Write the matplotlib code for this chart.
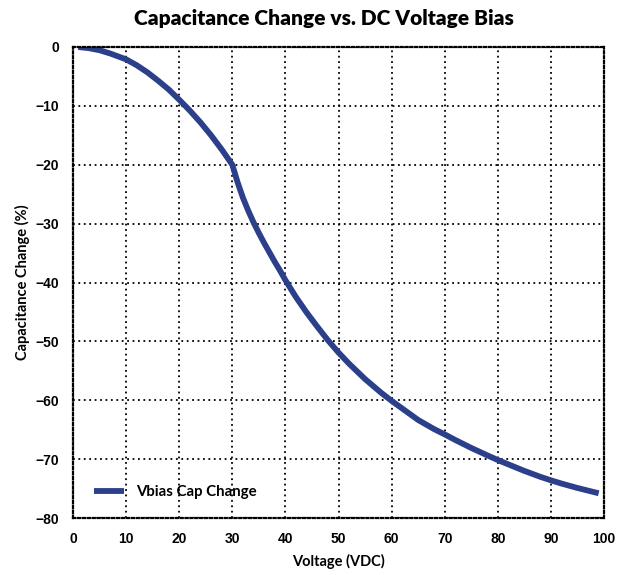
import matplotlib
matplotlib.use("Agg")
import matplotlib.pyplot as plt

voltage = [1, 3, 5, 7, 10, 12, 14, 16, 18, 20, 22, 24, 26, 28, 30,
           31, 32, 33, 34, 35, 36, 37, 38, 39, 40, 42, 44, 46, 48, 50,
           52, 55, 58, 60, 62, 65, 68, 70, 72, 75, 78, 80, 82, 85, 88, 90, 92, 95, 99]
cap_change = [0, -0.2, -0.55, -1.1, -2.1, -3.1, -4.3, -5.7, -7.2, -8.95, -10.8, -12.8, -15.0, -17.4, -20.0,
              -23.0, -25.6, -27.8, -29.8, -31.6, -33.3, -34.9, -36.5, -38.0, -39.6, -42.5, -45.1, -47.5, -49.8, -51.9,
              -53.8, -56.4, -58.7, -60.1, -61.4, -63.35, -64.9, -65.8, -66.75, -68.1, -69.35, -70.15, -70.9, -72.0, -73.0, -73.6, -74.15, -74.9, -75.8]
series_label = "Vbias Cap Change"
x_ticks = [0, 10, 20, 30, 40, 50, 60, 70, 80, 90, 100]
y_ticks = [0, -10, -20, -30, -40, -50, -60, -70, -80]

fig = plt.figure(figsize=(6.31, 5.75), dpi=100)
ax = fig.add_axes([73/631, 1-518/575, (604-73)/631, (518-47)/575])

ax.plot(voltage, cap_change, color="#2b3f8b", lw=4.2, label=series_label,
        solid_capstyle="butt", solid_joinstyle="round")
ax.set_xlim(0, 100)
ax.set_ylim(-80, 0)
ax.set_xticks(x_ticks)
ax.set_yticks(y_ticks)
ax.grid(True, color="black", linestyle=(0, (1, 2)), linewidth=1.3)
for s in ax.spines.values():
    s.set_linestyle((0, (1, 1.2)))
    s.set_linewidth(1.6)
ax.tick_params(length=0, pad=10)
for lab in ax.get_xticklabels() + ax.get_yticklabels():
    lab.set_fontfamily("Liberation Sans")
    lab.set_fontweight("bold")
    lab.set_fontsize(10)

ax.set_xlabel("Voltage (VDC)", fontfamily="Lato", fontweight="bold", fontsize=10.5, labelpad=6)
ax.set_ylabel("Capacitance Change (%)", fontfamily="Lato", fontweight="bold", fontsize=10.5, labelpad=4)
fig.text(324/631, 1-18/575, "Capacitance Change vs. DC Voltage Bias", ha="center", va="center",
         fontfamily="Lato", fontweight="heavy", fontsize=15)

leg = ax.legend(loc="lower left", frameon=False, prop={"family": "Lato", "weight": "bold", "size": 10.8},
                handlelength=2.0, borderaxespad=1.0, bbox_to_anchor=(0.0, -0.005))

fig.savefig("out.png", dpi=100)
